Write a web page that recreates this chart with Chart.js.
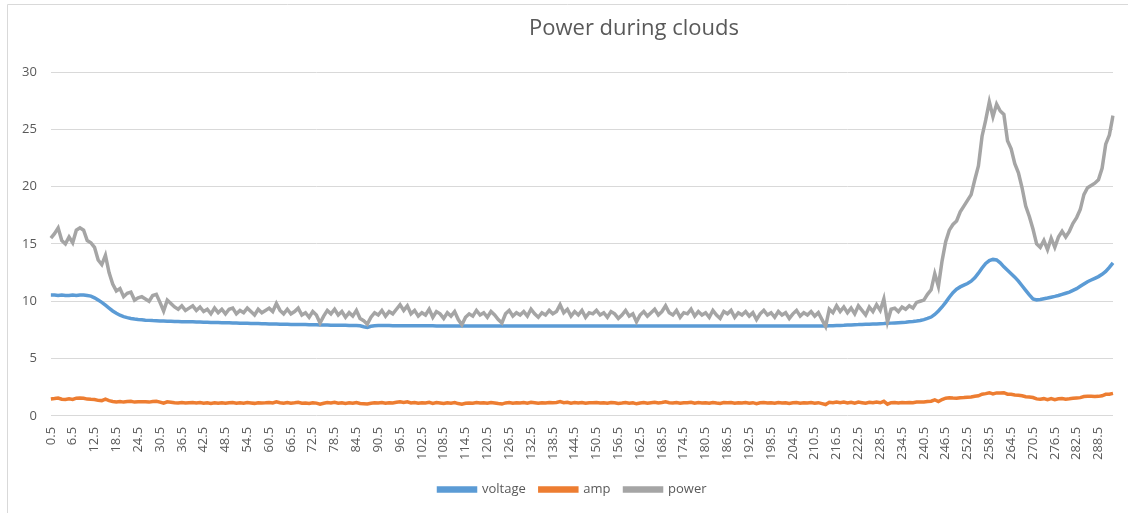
<!DOCTYPE html>
<html>
<head>
<meta charset="utf-8">
<script src="https://cdn.jsdelivr.net/npm/chart.js@4/dist/chart.umd.min.js"></script>
<style>
  html, body { margin: 0; padding: 0; background: #fff; }
  #wrap { width: 1128px; height: 513px; }
</style>
</head>
<body>
<div id="wrap"><canvas id="canvas" width="1128" height="513"></canvas></div>
<script>
// one reading per step, label = step + 0.5
var voltage = [
  10.55,10.55,10.5,10.55,10.5,10.5,10.55,10.5,10.55,10.55,
  10.5,10.45,10.3,10.1,9.9,9.65,9.4,9.15,8.95,8.78,
  8.66,8.57,8.5,8.45,8.41,8.38,8.35,8.33,8.31,8.3,
  8.28,8.27,8.26,8.25,8.24,8.23,8.22,8.21,8.2,8.2,
  8.19,8.18,8.17,8.16,8.15,8.15,8.14,8.13,8.12,8.12,
  8.11,8.1,8.09,8.08,8.07,8.06,8.05,8.05,8.04,8.03,
  8.02,8.02,8.01,8.0,8.0,7.99,7.98,7.98,7.97,7.96,
  7.96,7.95,7.94,7.94,7.93,7.92,7.92,7.91,7.91,7.9,
  7.9,7.9,7.89,7.89,7.88,7.86,7.78,7.72,7.82,7.87,
  7.88,7.88,7.88,7.88,7.87,7.87,7.87,7.87,7.87,7.86,
  7.86,7.86,7.86,7.86,7.86,7.86,7.85,7.85,7.85,7.85,
  7.85,7.85,7.85,7.84,7.85,7.85,7.85,7.85,7.85,7.85,
  7.85,7.85,7.85,7.85,7.85,7.85,7.84,7.85,7.85,7.85,
  7.85,7.85,7.85,7.84,7.84,7.84,7.84,7.84,7.84,7.84,
  7.84,7.84,7.84,7.84,7.84,7.84,7.84,7.84,7.84,7.84,
  7.84,7.84,7.84,7.84,7.84,7.84,7.84,7.84,7.84,7.84,
  7.84,7.83,7.84,7.84,7.84,7.84,7.84,7.84,7.84,7.84,
  7.84,7.84,7.84,7.84,7.84,7.84,7.84,7.84,7.84,7.84,
  7.84,7.84,7.84,7.84,7.84,7.84,7.84,7.84,7.84,7.84,
  7.84,7.84,7.84,7.84,7.84,7.84,7.84,7.84,7.84,7.84,
  7.84,7.84,7.84,7.84,7.84,7.84,7.84,7.84,7.84,7.84,
  7.84,7.84,7.85,7.85,7.86,7.87,7.88,7.89,7.9,7.92,
  7.93,7.95,7.96,7.98,7.99,8.0,8.01,8.02,8.04,8.05,
  8.07,8.09,8.11,8.13,8.15,8.17,8.2,8.23,8.27,8.32,
  8.4,8.5,8.62,8.85,9.15,9.5,9.9,10.35,10.75,11.05,
  11.25,11.4,11.55,11.75,12.05,12.45,12.9,13.3,13.55,13.65,
  13.6,13.35,13.0,12.7,12.4,12.1,11.75,11.35,10.95,10.55,
  10.2,10.12,10.15,10.22,10.28,10.35,10.42,10.5,10.6,10.7,
  10.8,10.95,11.1,11.3,11.5,11.7,11.85,12.0,12.15,12.35,
  12.6,12.95,13.35
];

var amp = [
  1.47,1.51,1.56,1.45,1.43,1.49,1.43,1.54,1.55,1.54,
  1.46,1.44,1.43,1.35,1.33,1.45,1.33,1.26,1.22,1.26,
  1.2,1.25,1.27,1.2,1.22,1.24,1.22,1.2,1.26,1.28,
  1.2,1.1,1.22,1.19,1.15,1.13,1.17,1.12,1.15,1.17,
  1.12,1.16,1.11,1.14,1.09,1.15,1.1,1.14,1.1,1.14,
  1.16,1.1,1.14,1.11,1.16,1.13,1.09,1.15,1.12,1.14,
  1.17,1.13,1.22,1.15,1.11,1.16,1.11,1.14,1.18,1.1,
  1.13,1.08,1.15,1.11,1.02,1.1,1.16,1.13,1.18,1.11,
  1.15,1.09,1.14,1.1,1.17,1.08,1.06,1.04,1.1,1.14,
  1.12,1.17,1.1,1.15,1.13,1.18,1.23,1.17,1.22,1.13,
  1.17,1.11,1.15,1.12,1.18,1.09,1.16,1.13,1.08,1.15,
  1.11,1.16,1.07,1.01,1.1,1.13,1.11,1.17,1.12,1.15,
  1.1,1.16,1.12,1.07,1.03,1.13,1.17,1.11,1.15,1.12,
  1.16,1.11,1.18,1.14,1.1,1.15,1.12,1.17,1.14,1.16,
  1.24,1.15,1.19,1.11,1.16,1.12,1.17,1.1,1.15,1.14,
  1.17,1.12,1.15,1.1,1.16,1.14,1.08,1.12,1.17,1.11,
  1.14,1.05,1.12,1.16,1.11,1.15,1.19,1.12,1.16,1.22,
  1.15,1.12,1.17,1.1,1.15,1.14,1.19,1.11,1.16,1.12,
  1.15,1.1,1.17,1.12,1.08,1.16,1.14,1.17,1.1,1.15,
  1.12,1.16,1.11,1.15,1.07,1.14,1.17,1.12,1.15,1.1,
  1.16,1.12,1.15,1.08,1.14,1.17,1.11,1.15,1.12,1.16,
  1.11,1.15,1.07,0.99,1.18,1.14,1.21,1.15,1.2,1.13,
  1.18,1.11,1.2,1.15,1.1,1.19,1.14,1.21,1.14,1.27,
  1.02,1.15,1.16,1.12,1.17,1.14,1.17,1.14,1.2,1.2,
  1.2,1.25,1.28,1.4,1.24,1.42,1.54,1.57,1.55,1.54,
  1.58,1.6,1.63,1.64,1.71,1.75,1.89,1.94,2.02,1.91,
  2.0,1.99,2.02,1.89,1.88,1.82,1.8,1.75,1.67,1.65,
  1.6,1.48,1.45,1.5,1.41,1.5,1.41,1.49,1.52,1.46,
  1.49,1.53,1.56,1.59,1.68,1.7,1.7,1.69,1.7,1.75,
  1.88,1.89,1.96
];

var power = [
  15.5,15.9,16.4,15.3,15.0,15.6,15.1,16.2,16.4,16.2,
  15.3,15.1,14.7,13.6,13.2,14.0,12.5,11.5,10.9,11.1,
  10.4,10.7,10.8,10.1,10.3,10.4,10.2,10.0,10.5,10.6,
  9.9,9.15,10.1,9.8,9.5,9.3,9.6,9.2,9.4,9.6,
  9.2,9.5,9.1,9.3,8.9,9.4,9.0,9.3,8.9,9.3,
  9.4,8.9,9.2,9.0,9.4,9.1,8.8,9.3,9.0,9.2,
  9.4,9.1,9.8,9.2,8.9,9.3,8.9,9.1,9.4,8.8,
  9.0,8.6,9.1,8.8,8.1,8.7,9.2,8.9,9.3,8.8,
  9.1,8.6,9.0,8.7,9.2,8.5,8.3,8.0,8.6,9.0,
  8.8,9.2,8.7,9.1,8.9,9.3,9.7,9.2,9.6,8.9,
  9.2,8.7,9.0,8.8,9.3,8.6,9.1,8.9,8.5,9.0,
  8.7,9.1,8.4,7.95,8.6,8.9,8.7,9.2,8.8,9.0,
  8.6,9.1,8.8,8.4,8.1,8.9,9.2,8.7,9.0,8.8,
  9.1,8.7,9.3,8.9,8.6,9.0,8.8,9.2,8.9,9.1,
  9.7,9.0,9.3,8.7,9.1,8.8,9.2,8.6,9.0,8.9,
  9.2,8.8,9.0,8.6,9.1,8.9,8.5,8.8,9.2,8.7,
  8.9,8.2,8.8,9.1,8.7,9.0,9.3,8.8,9.1,9.6,
  9.0,8.8,9.2,8.6,9.0,8.9,9.3,8.7,9.1,8.8,
  9.0,8.6,9.2,8.8,8.5,9.1,8.9,9.2,8.6,9.0,
  8.8,9.1,8.7,9.0,8.4,8.9,9.2,8.8,9.0,8.6,
  9.1,8.8,9.0,8.5,8.9,9.2,8.7,9.0,8.8,9.1,
  8.7,9.0,8.4,7.8,9.3,9.0,9.6,9.1,9.5,9.0,
  9.4,8.9,9.6,9.2,8.8,9.5,9.1,9.7,9.2,10.2,
  8.2,9.3,9.4,9.1,9.5,9.3,9.6,9.4,9.9,10.0,
  10.1,10.6,11.0,12.4,11.3,13.5,15.2,16.2,16.7,17.0,
  17.8,18.3,18.8,19.3,20.6,21.8,24.4,25.8,27.4,26.1,
  27.2,26.6,26.3,24.0,23.3,22.0,21.2,19.9,18.3,17.4,
  16.3,15.0,14.7,15.3,14.5,15.5,14.7,15.6,16.1,15.6,
  16.1,16.8,17.3,18.0,19.3,19.9,20.1,20.3,20.6,21.6,
  23.7,24.5,26.2
];

var times = [];
for (var i = 0; i < voltage.length; i++) times.push(String(i + 0.5));

var grey = '#595959';
var font = '"Open Sans", "Noto Sans", sans-serif';

// title and the chart frame, drawn after everything else
var frame = {
  id: 'frame',
  afterLayout: function (chart) {
    // nudge the legend a little right and up
    var lg = chart.legend;
    lg.left += 12; lg.right += 12;
    lg.top -= 2; lg.bottom -= 2;
  },
  afterDraw: function (chart) {
    var ctx = chart.ctx;
    ctx.save();
    ctx.strokeStyle = '#d9d9d9';
    ctx.lineWidth = 1;
    ctx.beginPath();
    ctx.moveTo(7.5, 513);
    ctx.lineTo(7.5, 4.5);
    ctx.lineTo(1128, 4.5);
    ctx.stroke();
    ctx.fillStyle = grey;
    ctx.font = '22px ' + font;
    ctx.textAlign = 'center';
    ctx.textBaseline = 'middle';
    ctx.fillText('Power during clouds', 634, 29);
    ctx.restore();
  }
};

var lineSet = function (label, data, color, order) {
  return {
    label: label,
    data: data,
    borderColor: color,
    backgroundColor: color,
    borderWidth: 3.5,
    pointRadius: 0,
    tension: 0,
    order: order
  };
};

new Chart(document.getElementById('canvas'), {
  type: 'line',
  data: {
    labels: times,
    datasets: [
      lineSet('voltage', voltage, '#5B9BD5', 2),
      lineSet('amp', amp, '#ED7D31', 1),
      lineSet('power', power, '#A5A5A5', 0)
    ]
  },
  options: {
    responsive: false,
    animation: false,
    devicePixelRatio: 1,
    layout: { padding: { top: 72, left: 8, right: 15, bottom: 5 } },
    plugins: {
      tooltip: { enabled: false },
      legend: {
        position: 'bottom',
        labels: {
          boxWidth: 37,
          boxHeight: 3,
          padding: 14,
          color: grey,
          font: { family: font, size: 13 },
          sort: function (a, b) { return a.datasetIndex - b.datasetIndex; }
        }
      }
    },
    scales: {
      x: {
        grid: { display: false, drawTicks: false },
        border: { display: false },
        ticks: {
          autoSkip: false,
          minRotation: 90,
          maxRotation: 90,
          padding: 11,
          color: grey,
          font: { family: font, size: 13 },
          callback: function (val, idx) {
            return idx % 6 === 0 ? this.getLabelForValue(val) : null;
          }
        }
      },
      y: {
        min: 0,
        max: 30,
        grid: { color: '#d9d9d9', lineWidth: 1, drawTicks: false },
        border: { display: false },
        ticks: {
          stepSize: 5,
          padding: 14,
          color: grey,
          font: { family: font, size: 13 }
        }
      }
    }
  },
  plugins: [frame]
});
</script>
</body>
</html>
